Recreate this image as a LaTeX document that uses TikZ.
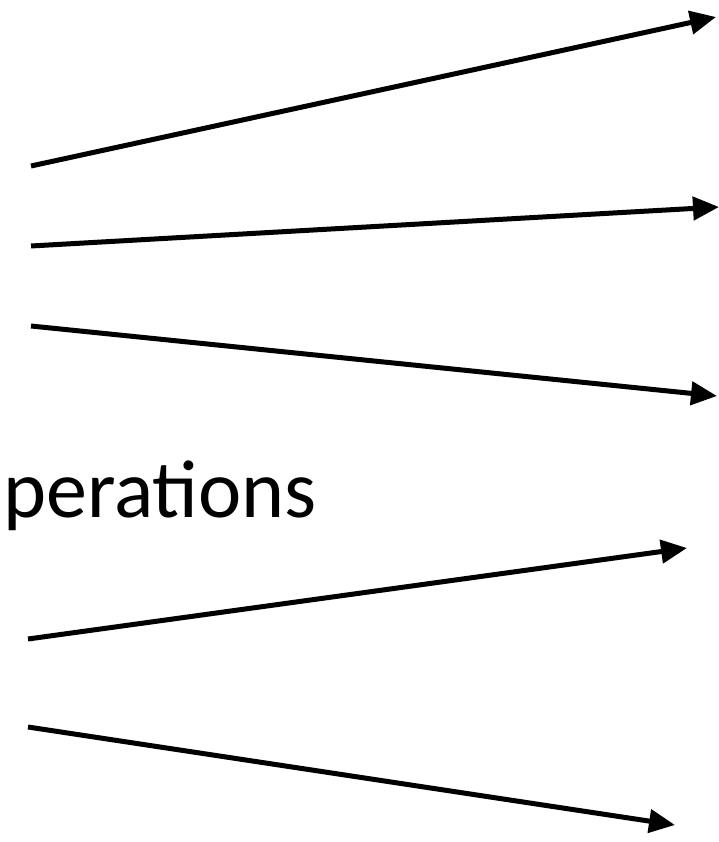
\documentclass[tikz,border=0pt]{standalone}
\usepackage{fontspec}
\setmainfont{Carlito}
\usetikzlibrary{arrows.meta}
\tikzset{
  flow/.style={line width=5pt, -{Triangle[length=26pt,width=23pt]}},
  caption/.style={anchor=base west, inner sep=0pt, font=\fontsize{82}{90}\selectfont}
}
\begin{document}
\begin{tikzpicture}[x=1pt,y=-1pt]
  \useasboundingbox (0,0) rectangle (719,842);
  % upper fan
  \coordinate (s1) at (31,166);  \coordinate (t1) at (716,17);
  \coordinate (s2) at (31,246);  \coordinate (t2) at (719,207);
  \coordinate (s3) at (31,326);  \coordinate (t3) at (717,396);
  % lower fan
  \coordinate (s4) at (28,639);  \coordinate (t4) at (687,548);
  \coordinate (s5) at (28,727);  \coordinate (t5) at (675,825);
  \node[caption] (lbl) at (3,517) {perations};
  \draw[flow] (s1) -- (t1);
  \draw[flow] (s2) -- (t2);
  \draw[flow] (s3) -- (t3);
  \draw[flow] (s4) -- (t4);
  \draw[flow] (s5) -- (t5);
\end{tikzpicture}
\end{document}
